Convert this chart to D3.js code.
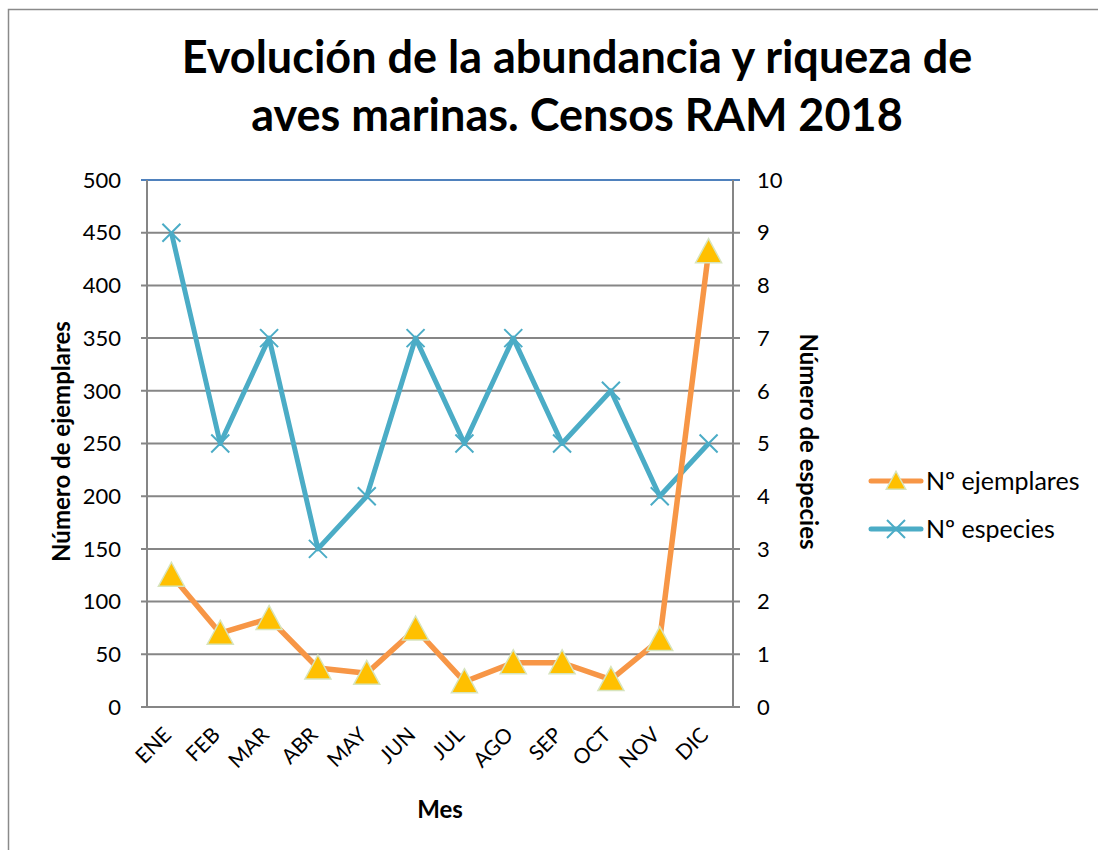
<!DOCTYPE html>
<html>
<head>
<meta charset="utf-8">
<script src="https://cdn.jsdelivr.net/npm/d3@7"></script>
<style>
  body { margin: 0; background: #fff; }
  text { font-family: Lato, "Open Sans", sans-serif; fill: #000; }
</style>
</head>
<body>
<div id="chart"></div>
<script>
const months = ['ENE', 'FEB', 'MAR', 'ABR', 'MAY', 'JUN', 'JUL', 'AGO', 'SEP', 'OCT', 'NOV', 'DIC']
const ejemplares = [125, 70, 84, 37, 32, 74, 24, 42, 42, 26, 64, 432]
const especies = [9, 5, 7, 3, 4, 7, 5, 7, 5, 6, 4, 5]
const leftTicks = [0, 50, 100, 150, 200, 250, 300, 350, 400, 450, 500]
const rightTicks = [0, 1, 2, 3, 4, 5, 6, 7, 8, 9, 10]

const W = 1098, H = 850
const plot = { left: 147, right: 733, top: 180, bottom: 707 }

const svg = d3.select('#chart').append('svg')
                               .attr('width', W)
                               .attr('height', H)

// outer chart border (only left/top visible)
svg.append('path')
     .attr('d', `M8.5,${H} L8.5,9.5 L${W},9.5`)
     .attr('fill', 'none')
     .attr('stroke', '#8a8a8a')
     .attr('stroke-width', 1.5)

const x = d3.scaleBand().domain(months).range([plot.left, plot.right])
const yL = d3.scaleLinear().domain([0, 500]).range([plot.bottom, plot.top])
const yR = d3.scaleLinear().domain([0, 10]).range([plot.bottom, plot.top])
const cx = d => x(d) + x.bandwidth() / 2

// title
const title = svg.append('text')
                   .attr('text-anchor', 'middle')
                   .style('font-size', '45px')
                   .style('font-weight', 'bold')
title.append('tspan').attr('x', 577).attr('y', 73).text('Evolución de la abundancia y riqueza de')
title.append('tspan').attr('x', 577).attr('y', 131).text('aves marinas. Censos RAM 2018')

// gridlines
svg.append('g')
   .selectAll('line')
   .data(leftTicks)
   .enter()
     .append('line')
     .attr('x1', plot.left - 6)
     .attr('x2', plot.right + 7)
     .attr('y1', d => yL(d))
     .attr('y2', d => yL(d))
     .attr('stroke', d => d === 500 ? '#4F81BD' : '#868686')
     .attr('stroke-width', 2)

// axis lines
svg.append('line')
   .attr('x1', plot.left).attr('x2', plot.left)
   .attr('y1', plot.top).attr('y2', plot.bottom)
   .attr('stroke', '#868686').attr('stroke-width', 2)
svg.append('line')
   .attr('x1', plot.right).attr('x2', plot.right)
   .attr('y1', plot.top).attr('y2', plot.bottom)
   .attr('stroke', '#868686').attr('stroke-width', 2)

// left tick labels
svg.append('g')
   .selectAll('text')
   .data(leftTicks)
   .enter()
     .append('text')
     .attr('x', 121)
     .attr('y', d => yL(d))
     .attr('dy', '0.35em')
     .attr('text-anchor', 'end')
     .style('font-size', '22px')
     .text(d => d)

// right tick labels
svg.append('g')
   .selectAll('text')
   .data(rightTicks)
   .enter()
     .append('text')
     .attr('x', 757)
     .attr('y', d => yR(d))
     .attr('dy', '0.35em')
     .attr('text-anchor', 'start')
     .style('font-size', '22px')
     .text(d => d)

// x tick labels
svg.append('g')
   .selectAll('text')
   .data(months)
   .enter()
     .append('text')
     .attr('transform', d => `translate(${cx(d) - 4},${plot.bottom + 24}) rotate(-45)`)
     .attr('text-anchor', 'end')
     .attr('dy', '0.35em')
     .style('font-size', '21px')
     .text(d => d)

// axis titles
svg.append('text')
   .attr('transform', `translate(70,${(plot.top + plot.bottom) / 2 - 2}) rotate(-90)`)
   .attr('text-anchor', 'middle')
   .style('font-size', '24px')
   .style('font-weight', 'bold')
   .text('Número de ejemplares')
svg.append('text')
   .attr('transform', `translate(800,${(plot.top + plot.bottom) / 2 - 2}) rotate(90)`)
   .attr('text-anchor', 'middle')
   .style('font-size', '24px')
   .style('font-weight', 'bold')
   .text('Número de especies')
svg.append('text')
   .attr('x', 440)
   .attr('y', 818)
   .attr('text-anchor', 'middle')
   .style('font-size', '24px')
   .style('font-weight', 'bold')
   .text('Mes')

const ORANGE = '#F79646', BLUE = '#4BACC6'
const triPath = 'M0,-13 L13,11 L-13,11 Z'
const xPath = 'M-9,-9 L9,9 M-9,9 L9,-9'

// especies line
svg.append('path')
   .datum(especies)
   .attr('fill', 'none')
   .attr('stroke', BLUE)
   .attr('stroke-width', 5)
   .attr('stroke-linejoin', 'round')
   .attr('d', d3.line().x((d, i) => cx(months[i])).y(d => yR(d)))
svg.append('g')
   .selectAll('path')
   .data(especies)
   .enter()
     .append('path')
     .attr('transform', (d, i) => `translate(${cx(months[i])},${yR(d)})`)
     .attr('d', xPath)
     .attr('stroke', BLUE)
     .attr('stroke-width', 2)

// ejemplares line
svg.append('path')
   .datum(ejemplares)
   .attr('fill', 'none')
   .attr('stroke', ORANGE)
   .attr('stroke-width', 5.5)
   .attr('stroke-linejoin', 'round')
   .attr('d', d3.line().x((d, i) => cx(months[i])).y(d => yL(d)))
svg.append('g')
   .selectAll('path')
   .data(ejemplares)
   .enter()
     .append('path')
     .attr('transform', (d, i) => `translate(${cx(months[i])},${yL(d)})`)
     .attr('d', triPath)
     .attr('fill', '#FFC000')
     .attr('stroke', '#D7E4BD')
     .attr('stroke-width', 1.5)

// legend
const legend = svg.append('g')
const items = [
  { name: 'Nº ejemplares', color: ORANGE, mark: triPath, tri: true, y: 481 },
  { name: 'Nº especies', color: BLUE, mark: xPath, tri: false, y: 529 }
]
items.forEach(it => {
  legend.append('line')
        .attr('x1', 871).attr('x2', 921)
        .attr('y1', it.y).attr('y2', it.y)
        .attr('stroke', it.color)
        .attr('stroke-width', 5)
        .attr('stroke-linecap', 'round')
  legend.append('path')
        .attr('transform', `translate(896,${it.y}) scale(${it.tri ? 0.75 : 1})`)
        .attr('d', it.mark)
        .attr('fill', it.tri ? '#FFC000' : 'none')
        .attr('stroke', it.tri ? '#D7E4BD' : it.color)
        .attr('stroke-width', 2)
  legend.append('text')
        .attr('x', 926)
        .attr('y', it.y)
        .attr('dy', '0.35em')
        .style('font-size', '25px')
        .text(it.name)
})
</script>
</body>
</html>
